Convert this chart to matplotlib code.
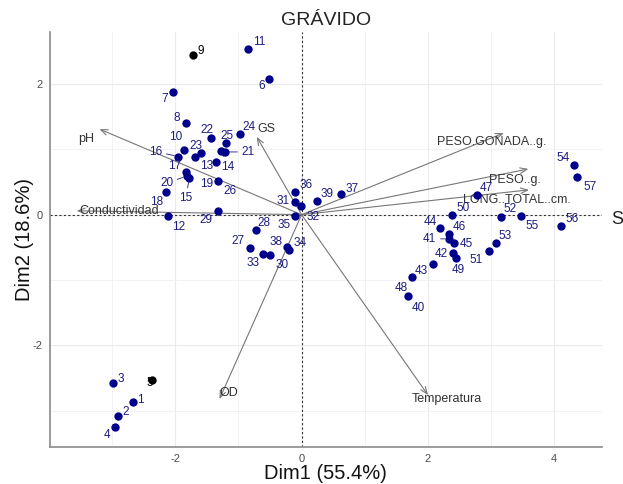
import matplotlib
matplotlib.use('Agg')
import matplotlib.pyplot as plt

plt.rcParams['font.family'] = ['Liberation Sans', 'DejaVu Sans']
plt.rcParams['axes.unicode_minus'] = False

# active individuals (PCA scores, Dim1 / Dim2)
ind_names = [str(i) for i in range(1, 58) if i not in (5, 9)]
ind_x = [-2.67, -2.91, -2.99, -2.95, -0.51, -2.04, -1.83, -1.86, -0.85,
         -2.12, -1.36, -1.28, -1.78, -1.95, -1.83, -2.14, -1.32, -1.82,
         -1.21, -1.44, -1.60, -0.98, -1.19, -1.69, -0.82, -0.72, -1.32,
         -0.50, -0.10, -0.01, -0.61, -0.20, -0.10, -0.11, 0.63, -0.23,
         0.24, 1.69, 2.33, 2.40, 2.08, 2.19, 2.42, 2.33, 2.77, 1.75,
         2.44, 2.38, 2.96, 3.15, 3.07, 4.31, 3.47, 4.11, 4.36]
ind_y = [-2.87, -3.08, -2.58, -3.25, 2.07, 1.87, 1.41, 0.99, 2.53,
         -0.02, 0.81, 0.98, 0.56, 0.89, 0.65, 0.35, 0.52, 0.59,
         0.96, 1.18, 0.94, 1.23, 1.10, 0.89, -0.51, -0.24, 0.06,
         -0.62, 0.19, 0.14, -0.60, -0.54, -0.02, 0.34, 0.31, -0.49,
         0.21, -1.25, -0.37, -0.58, -0.75, -0.21, -0.43, -0.29, 0.30, -0.95,
         -0.67, -0.01, -0.55, -0.04, -0.44, 0.76, -0.02, -0.18, 0.58]

# supplementary individuals
sup_names = ['5', '9']
sup_x = [-2.37, -1.72]
sup_y = [-2.53, 2.45]

# variables (arrow tips)
var_names = ['pH', 'GS', 'Conductividad', 'OD', 'Temperatura',
             'PESO.GONADA..g.', 'PESO..g.', 'LONG..TOTAL..cm.']
var_x = [-3.20, -0.71, -3.56, -1.30, 2.00, 3.20, 3.59, 3.60]
var_y = [1.31, 1.19, 0.06, -2.82, -2.76, 1.25, 0.70, 0.38]

# label offsets in pixels (right, down) from the point
lab_off = {
    '1': (7, -2), '2': (8, -4), '3': (8, -4), '4': (-8, 8), '5': (-2, 3),
    '6': (-8, 7), '7': (-8, 7), '8': (-9, -5), '9': (8, -4), '10': (-8, -13),
    '11': (11, -7), '12': (11, 11), '13': (-9, 4), '14': (7, 16), '15': (-3, 20),
    '16': (-23, -5), '17': (-11, -6), '18': (-10, 10), '19': (-12, 3), '20': (-20, 7),
    '21': (23, 0), '22': (-4, -8), '23': (-5, -7), '24': (9, -7), '25': (1, -7),
    '26': (35, 34), '27': (-12, -7), '28': (8, -7), '29': (-12, 9), '30': (12, 10),
    '31': (-12, -1), '32': (12, 11), '33': (-10, 9), '34': (11, -7), '35': (-11, 9),
    '36': (11, -7), '37': (11, -5), '38': (-11, -5), '39': (10, -7), '40': (10, 12),
    '41': (-19, 0), '42': (-12, 1), '43': (-12, 7), '44': (-10, -6), '45': (12, 1),
    '46': (11, -7), '47': (10, -7), '48': (-11, 11), '49': (2, 12), '50': (11, -7),
    '51': (-12, 9), '52': (9, -8), '53': (9, -7), '54': (-11, -7), '55': (11, 10),
    '56': (11, -7), '57': (13, 10),
}
leaders = ['10', '14', '15', '16', '20', '21', '41']
var_off = {
    'pH': (-13, 10), 'GS': (10, -8), 'Conductividad': (42, 0), 'OD': (9, -6),
    'Temperatura': (19, 4), 'PESO.GONADA..g.': (-12, 9), 'PESO..g.': (-13, 11),
    'LONG..TOTAL..cm.': (-12, 10),
}

blue = '#00008B'
blue_txt = '#1C1C80'
arrow_col = '#777777'

fig = plt.figure(figsize=(6.23, 4.84), dpi=100)
ax = fig.add_axes([0.0795, 0.0771, 0.8863, 0.8574])
ax.set_xlim(-3.99, 4.75)
ax.set_ylim(-3.55, 2.80)

ax.set_xticks([-2, 0, 2, 4])
ax.set_yticks([-2, 0, 2])
ax.set_xticks([-3, -1, 1, 3], minor=True)
ax.set_yticks([-3, -1, 1], minor=True)
ax.grid(True, which='major', color='#EBEBEB', lw=0.8)
ax.grid(True, which='minor', color='#F0F0F0', lw=0.6)
ax.set_axisbelow(True)
ax.tick_params(which='both', length=0)
ax.tick_params(which='major', labelsize=8, labelcolor='#4D4D4D', pad=5)
for s in ['top', 'right']:
    ax.spines[s].set_visible(False)
for s in ['left', 'bottom']:
    ax.spines[s].set_color('#8A8A8A')
    ax.spines[s].set_linewidth(1.2)

ax.axhline(0, color='#333333', ls=(0, (2, 2)), lw=0.8, zorder=1)
ax.axvline(0, color='#333333', ls=(0, (2, 2)), lw=0.8, zorder=1)

# variable arrows
for name, vx, vy in zip(var_names, var_x, var_y):
    ax.annotate('', xy=(vx, vy), xytext=(0, 0),
                arrowprops=dict(arrowstyle='->,head_length=0.5,head_width=0.2',
                                color=arrow_col, lw=0.8, shrinkA=0, shrinkB=0),
                zorder=2)
    dx, dy = var_off[name]
    ax.annotate(name, (vx, vy), xytext=(dx, -dy), textcoords='offset pixels',
                ha='center', va='center', fontsize=9, color='#333333', zorder=3)

# individuals
ax.scatter(ind_x, ind_y, s=36, color=blue, zorder=4, linewidths=0)
ax.scatter(sup_x, sup_y, s=36, color='black', zorder=4, linewidths=0)

for name, px, py in zip(ind_names, ind_x, ind_y):
    dx, dy = lab_off[name]
    props = None
    if name in leaders:
        props = dict(arrowstyle='-', color=blue_txt, lw=0.6, shrinkA=1, shrinkB=3)
    ax.annotate(name, (px, py), xytext=(dx, -dy), textcoords='offset pixels',
                ha='center', va='center', fontsize=8.5, color=blue_txt,
                arrowprops=props, zorder=5)
for name, px, py in zip(sup_names, sup_x, sup_y):
    dx, dy = lab_off[name]
    ax.annotate(name, (px, py), xytext=(dx, -dy), textcoords='offset pixels',
                ha='center', va='center', fontsize=8.5, color='black', zorder=5)

ax.set_xlabel('Dim1 (55.4%)', fontsize=14.5, color='#111111', labelpad=0.5)
ax.set_ylabel('Dim2 (18.6%)', fontsize=14.5, color='#111111')
ax.yaxis.set_label_coords(-0.028, 0.5)
ax.set_title('GRÁVIDO', fontsize=14, color='#222222', pad=5)

# cut-off text at the right border of the original image
fig.text(611 / 623, 1 - 220 / 484, 'S', ha='left', va='center',
         fontsize=13, color='#222222')

fig.savefig('out.png', dpi=100)
